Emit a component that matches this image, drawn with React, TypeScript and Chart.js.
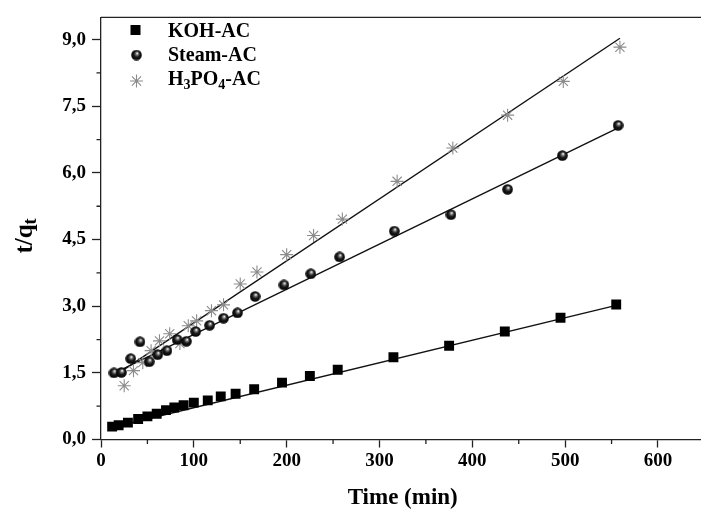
import React, { useEffect, useRef } from 'react';
import { Chart, registerables } from 'chart.js';

Chart.register(...registerables);

const FONT = '"Liberation Serif", "Times New Roman", serif';

// ---- Data ----
const kohTime = [12, 19, 29, 40, 50, 60, 70, 79, 89, 100, 115, 129, 145, 165, 195, 225, 255, 315, 375, 435, 495, 555];
const kohValue = [0.29, 0.32, 0.38, 0.46, 0.52, 0.58, 0.66, 0.72, 0.77, 0.83, 0.88, 0.97, 1.03, 1.13, 1.28, 1.43, 1.57, 1.85, 2.11, 2.43, 2.74, 3.04];

const steamTime = [14, 22, 32, 42, 52, 61, 71, 82, 92, 102, 117, 132, 147, 166, 197, 226, 257, 316, 377, 438, 497, 557];
const steamValue = [1.5, 1.51, 1.82, 2.2, 1.75, 1.91, 2.0, 2.25, 2.21, 2.43, 2.57, 2.73, 2.85, 3.22, 3.48, 3.73, 4.11, 4.69, 5.06, 5.63, 6.39, 7.07];

const h3po4Time = [25, 35, 45, 54, 63, 74, 85, 94, 103, 119, 132, 150, 168, 200, 229, 260, 319, 379, 438, 498, 559];
const h3po4Value = [1.21, 1.55, 1.73, 2.0, 2.22, 2.38, 2.16, 2.56, 2.67, 2.9, 3.03, 3.5, 3.77, 4.16, 4.59, 4.96, 5.81, 6.56, 7.3, 8.06, 8.83];

// linear fit lines (end points)
const kohFitTime = [12, 555];
const kohFitValue = [0.27, 3.02];
const steamFitTime = [15, 556];
const steamFitValue = [1.5, 7.0];
const h3po4FitTime = [23, 559];
const h3po4FitValue = [1.55, 9.03];

const seriesLabels = ['KOH-AC', 'Steam-AC', 'H3PO4-AC'];
const xAxisTitle = 'Time (min)';
const yAxisTitleMain = 't/q';
const yAxisTitleSub = 't';

const X_MIN = 0;
const X_MAX = 650;
const X_STEP = 50;
const Y_MIN = 0;
const Y_MAX = 9.5;
const Y_STEP = 0.75;

const toPts = (xs: number[], ys: number[]) => xs.map((x, i) => ({ x, y: ys[i] }));

function makeBall(d: number): HTMLCanvasElement {
  const c = document.createElement('canvas');
  c.width = d;
  c.height = d;
  const g = c.getContext('2d')!;
  const r = d / 2;
  const grad = g.createRadialGradient(r + 0.8, r - 1.8, 0.3, r, r, r);
  grad.addColorStop(0, '#f2f2f2');
  grad.addColorStop(0.22, '#7a7a7a');
  grad.addColorStop(0.5, '#1a1a1a');
  grad.addColorStop(1, '#000');
  g.fillStyle = grad;
  g.beginPath();
  g.arc(r, r, r - 0.2, 0, Math.PI * 2);
  g.fill();
  return c;
}

function drawStar(ctx: CanvasRenderingContext2D, x: number, y: number, r: number, color: string) {
  ctx.save();
  ctx.strokeStyle = color;
  ctx.lineWidth = 1.1;
  ctx.beginPath();
  for (let k = 0; k < 4; k++) {
    const a = (k * Math.PI) / 4;
    ctx.moveTo(x - Math.cos(a) * r, y - Math.sin(a) * r);
    ctx.lineTo(x + Math.cos(a) * r, y + Math.sin(a) * r);
  }
  ctx.stroke();
  ctx.restore();
}

const isMajorY = (v: number) => Math.round(v / Y_STEP) % 2 === 0;
const isMajorX = (v: number) => Math.round(v) % 100 === 0;

export default function App() {
  const ref = useRef<HTMLCanvasElement | null>(null);

  useEffect(() => {
    const canvas = ref.current;
    if (!canvas) return;
    const ball = makeBall(11);
    const starColor = '#8c8c8c';

    const extras = {
      id: 'extras',
      afterDraw(chart: any) {
        const ctx: CanvasRenderingContext2D = chart.ctx;
        const a = chart.chartArea;
        const xs = chart.scales.x;
        const ys = chart.scales.y;
        ctx.save();
        ctx.strokeStyle = '#222';
        ctx.lineWidth = 1.3;
        ctx.beginPath();
        // minor ticks
        xs.ticks.forEach((t: any) => {
          if (!isMajorX(t.value)) {
            const px = xs.getPixelForValue(t.value);
            ctx.moveTo(px, a.bottom);
            ctx.lineTo(px, a.bottom + 4.5);
          }
        });
        ys.ticks.forEach((t: any) => {
          if (!isMajorY(t.value)) {
            const py = ys.getPixelForValue(t.value);
            ctx.moveTo(a.left - 4.5, py);
            ctx.lineTo(a.left, py);
          }
        });
        // frame top / right
        ctx.moveTo(a.left, a.top);
        ctx.lineTo(a.right, a.top);
        ctx.lineTo(a.right, a.bottom);
        ctx.stroke();

        // y-axis title with subscript
        ctx.fillStyle = '#000';
        ctx.translate(32, 236);
        ctx.rotate(-Math.PI / 2);
        ctx.font = `bold 25px ${FONT}`;
        const wMain = ctx.measureText(yAxisTitleMain).width;
        ctx.font = `bold 18px ${FONT}`;
        const wSub = ctx.measureText(yAxisTitleSub).width;
        const start = -(wMain + wSub) / 2;
        ctx.textBaseline = 'alphabetic';
        ctx.font = `bold 25px ${FONT}`;
        ctx.fillText(yAxisTitleMain, start, 0);
        ctx.font = `bold 18px ${FONT}`;
        ctx.fillText(yAxisTitleSub, start + wMain, 4);
        ctx.restore();

        // legend
        ctx.save();
        ctx.fillStyle = '#000';
        ctx.fillRect(135.5 - 5, 30 - 5, 10, 10);
        ctx.drawImage(ball, 136.5 - 5.5, 55 - 5.5);
        drawStar(ctx, 136.5, 81, 6.5, starColor);
        ctx.textBaseline = 'alphabetic';
        ctx.font = `bold 20px ${FONT}`;
        ctx.fillText(seriesLabels[0], 168, 37);
        ctx.fillText(seriesLabels[1], 168, 61);
        // H3PO4-AC with subscripts
        let x = 168;
        const parts: [string, boolean][] = [['H', false], ['3', true], ['PO', false], ['4', true], ['-AC', false]];
        parts.forEach(([s, sub]) => {
          ctx.font = sub ? `bold 14px ${FONT}` : `bold 20px ${FONT}`;
          ctx.fillText(s, x, sub ? 89 : 85);
          x += ctx.measureText(s).width;
        });
        ctx.restore();
      },
    };

    const chart = new Chart(canvas, {
      type: 'scatter',
      data: {
        datasets: [
          {
            label: seriesLabels[0],
            data: toPts(kohTime, kohValue),
            pointStyle: 'rect',
            pointRadius: 7,
            backgroundColor: '#000',
            borderColor: '#000',
            borderWidth: 0,
          },
          {
            label: seriesLabels[1],
            data: toPts(steamTime, steamValue),
            pointStyle: ball as any,
            pointRadius: 5.5,
            backgroundColor: '#000',
            borderColor: '#000',
          },
          {
            label: seriesLabels[2],
            data: toPts(h3po4Time, h3po4Value),
            pointStyle: 'star',
            pointRadius: 6.5,
            borderColor: starColor,
            backgroundColor: 'rgba(0,0,0,0)',
            borderWidth: 1.1,
          },
          {
            label: 'KOH fit',
            type: 'line',
            data: toPts(kohFitTime, kohFitValue),
            showLine: true,
            borderColor: '#111',
            borderWidth: 1.4,
            pointRadius: 0,
            fill: false,
          } as any,
          {
            label: 'Steam fit',
            type: 'line',
            data: toPts(steamFitTime, steamFitValue),
            showLine: true,
            borderColor: '#111',
            borderWidth: 1.4,
            pointRadius: 0,
            fill: false,
          } as any,
          {
            label: 'H3PO4 fit',
            type: 'line',
            data: toPts(h3po4FitTime, h3po4FitValue),
            showLine: true,
            borderColor: '#111',
            borderWidth: 1.4,
            pointRadius: 0,
            fill: false,
          } as any,
        ],
      },
      options: {
        responsive: false,
        animation: false,
        layout: { padding: { top: 13, right: 4.5, left: 0, bottom: 0 } },
        plugins: { legend: { display: false }, tooltip: { enabled: false } },
        scales: {
          x: {
            type: 'linear',
            position: 'bottom',
            min: X_MIN,
            max: X_MAX,
            afterFit: (s: any) => {
              s.height = 70.5;
            },
            ticks: {
              stepSize: X_STEP,
              includeBounds: false,
              autoSkip: false,
              maxRotation: 0,
              padding: 2,
              color: '#000',
              font: { family: FONT, size: 19, weight: 'bold' },
              callback: (v: any) => (isMajorX(Number(v)) ? String(v) : ''),
            },
            grid: {
              drawOnChartArea: false,
              drawTicks: true,
              tickLength: 8,
              tickWidth: 1.3,
              tickColor: (c: any) => (c.tick && isMajorX(c.tick.value) ? '#222' : 'rgba(0,0,0,0)'),
            },
            border: { display: true, color: '#222', width: 1.3 },
            title: {
              display: true,
              text: xAxisTitle,
              color: '#000',
              font: { family: FONT, size: 23, weight: 'bold', lineHeight: 1 },
              padding: { top: 0, bottom: 0 },
            },
          },
          y: {
            type: 'linear',
            min: Y_MIN,
            max: Y_MAX,
            afterFit: (s: any) => {
              s.width = 101;
            },
            ticks: {
              stepSize: Y_STEP,
              includeBounds: false,
              autoSkip: false,
              padding: 6,
              color: '#000',
              font: { family: FONT, size: 19, weight: 'bold' },
              callback: (v: any) => (isMajorY(Number(v)) ? Number(v).toFixed(1).replace('.', ',') : ''),
            },
            grid: {
              drawOnChartArea: false,
              drawTicks: true,
              tickLength: 9,
              tickWidth: 1.3,
              tickColor: (c: any) => (c.tick && isMajorY(c.tick.value) ? '#222' : 'rgba(0,0,0,0)'),
            },
            border: { display: true, color: '#222', width: 1.3 },
            title: { display: false },
          },
        },
      } as any,
      plugins: [extras],
    });

    return () => {
      chart.destroy();
    };
  }, []);

  return (
    <div
      style={{
        position: 'fixed',
        left: 0,
        top: 0,
        width: 701,
        height: 510,
        overflow: 'hidden',
        background: '#fff',
      }}
    >
      <canvas ref={ref} width={712} height={510} style={{ width: 712, height: 510, display: 'block' }} />
    </div>
  );
}
